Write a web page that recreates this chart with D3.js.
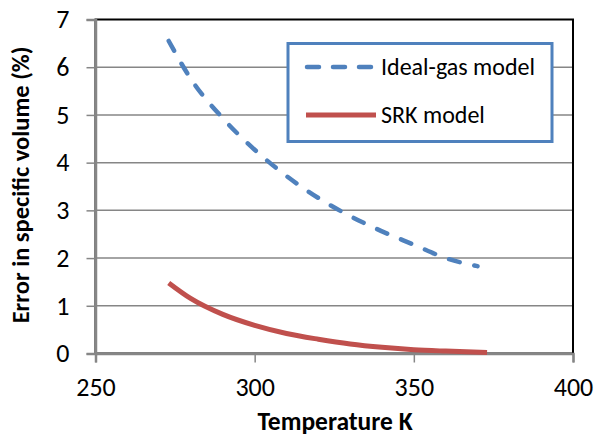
<!DOCTYPE html>
<html><head><meta charset="utf-8">
<script src="https://cdn.jsdelivr.net/npm/d3@7"></script>
<style>body{margin:0;background:#fff;} text{font-family:Carlito,Lato,"Open Sans",sans-serif;}</style>
</head><body><svg id="c" width="596" height="437"></svg>
<script>
const temps = [273, 280, 290, 300, 310, 320, 330, 340, 350, 360, 370];
const idealGas = [6.55, 5.75, 4.93, 4.27, 3.72, 3.26, 2.88, 2.56, 2.28, 2.0, 1.83];
const srkTemps = [273, 280, 290, 300, 310, 320, 330, 340, 350, 360, 373];
const srk = [1.48, 1.15, 0.82, 0.59, 0.42, 0.30, 0.20, 0.13, 0.08, 0.05, 0.02];
const xTicks = [250, 300, 350, 400];
const yTicks = [0, 1, 2, 3, 4, 5, 6, 7];
const seriesNames = ["Ideal-gas model", "SRK model"];

const svg = d3.select("#c");
const L = 95.5, R = 573, T = 19.5, B = 353.5;
const x = d3.scaleLinear().domain([250, 400]).range([L, R]);
const y = d3.scaleLinear().domain([0, 7]).range([B, T]);
const grid = "#868686";

// gridlines
svg.append("g").selectAll("line").data(yTicks.filter(d => d > 0 && d < 7)).join("line")
  .attr("x1", L).attr("x2", R).attr("y1", d => y(d)).attr("y2", d => y(d))
  .attr("stroke", grid).attr("stroke-width", 1.5);

// plot border
svg.append("rect").attr("x", L).attr("y", T).attr("width", R - L).attr("height", B - T)
  .attr("fill", "none").attr("stroke", "#000").attr("stroke-width", 2);

// axes
const yAxis = d3.axisLeft(y).tickValues(yTicks).tickSize(9).tickPadding(17).tickFormat(d3.format("d"));
const gy = svg.append("g").attr("transform", `translate(${L},0)`).call(yAxis);
const xAxis = d3.axisBottom(x).tickValues(xTicks).tickSize(9).tickPadding(15).tickFormat(d3.format("d"));
const gx = svg.append("g").attr("transform", `translate(0,${B})`).call(xAxis);
[gx, gy].forEach(g => {
  g.select(".domain").attr("stroke", grid).attr("stroke-width", 2.5);
  g.selectAll(".tick line").attr("stroke", grid).attr("stroke-width", 1.5);
  g.selectAll(".tick text").attr("fill", "#000").style("font-size", "26px")
    .style("font-family", "Carlito,Lato,sans-serif");
});

const line = d3.line().curve(d3.curveMonotoneX);
svg.append("path")
  .attr("d", line(temps.map((t, i) => [x(t), y(idealGas[i])])))
  .attr("fill", "none").attr("stroke", "#4F81BD").attr("stroke-width", 4.5)
  .attr("stroke-dasharray", "11,15").attr("stroke-linecap", "round");
svg.append("path")
  .attr("d", line(srkTemps.map((t, i) => [x(t), y(srk[i])])))
  .attr("fill", "none").attr("stroke", "#C0504D").attr("stroke-width", 5)
  .attr("stroke-linecap", "butt");

// legend
const lg = svg.append("g");
lg.append("rect").attr("x", 288).attr("y", 43.5).attr("width", 264).attr("height", 98)
  .attr("fill", "#fff").attr("stroke", "#4F81BD").attr("stroke-width", 3);
lg.append("line").attr("x1", 307).attr("x2", 375).attr("y1", 67).attr("y2", 67)
  .attr("stroke", "#4F81BD").attr("stroke-width", 4.5).attr("stroke-dasharray", "12,14").attr("stroke-linecap", "round");
lg.append("line").attr("x1", 306).attr("x2", 376).attr("y1", 115).attr("y2", 115)
  .attr("stroke", "#C0504D").attr("stroke-width", 5);
lg.selectAll("text.l").data(seriesNames).join("text").attr("class", "l")
  .attr("x", 381).attr("y", (d, i) => 67 + i * 48).attr("dy", "0.35em")
  .style("font-size", "24px").text(d => d);

// axis titles
svg.append("text").attr("x", 335).attr("y", 430).attr("text-anchor", "middle")
  .style("font-size", "25.5px").style("font-weight", "bold").text("Temperature K");
svg.append("text").attr("transform", "translate(28.5,185) rotate(-90)").attr("text-anchor", "middle")
  .style("font-size", "24.5px").style("font-weight", "bold").text("Error in specific volume (%)");
</script></body></html>
